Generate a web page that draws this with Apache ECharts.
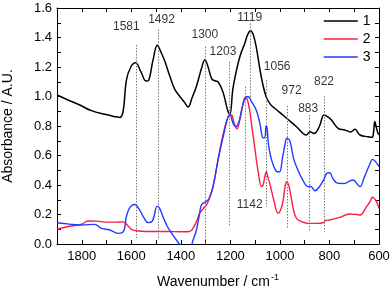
<!DOCTYPE html>
<html><head><meta charset="utf-8">
<script src="https://cdn.jsdelivr.net/npm/echarts@6/dist/echarts.min.js"></script>
<style>html,body{margin:0;padding:0;background:#fff}#c{width:392px;height:290px}</style>
</head><body><div id="c"></div>
<script>
// Series 1 (black) [wavenumber, absorbance]
var s1 = [[1900,1.01],[1860,0.98],[1808,0.942],[1761,0.904],[1707,0.879],[1660,0.862],[1647,0.858],[1633,0.9],[1620,1.11],[1602,1.2],[1583,1.228],[1562,1.17],[1540,1.105],[1530,1.11],[1512,1.25],[1495,1.347],[1480,1.30],[1465,1.24],[1445,1.14],[1425,1.05],[1404,1.0],[1385,0.96],[1371,0.928],[1355,0.99],[1337,1.07],[1315,1.2],[1303,1.25],[1290,1.2],[1275,1.12],[1260,1.105],[1250,1.1],[1230,1.03],[1210,0.9],[1202,0.88],[1190,1.05],[1175,1.18],[1160,1.28],[1142,1.36],[1130,1.42],[1119,1.445],[1108,1.42],[1095,1.33],[1075,1.13],[1056,1.0],[1040,0.95],[1021,0.92],[980,0.863],[933,0.795],[893,0.739],[879,0.761],[862,0.75],[840,0.8],[822,0.875],[805,0.86],[792,0.84],[765,0.784],[738,0.773],[715,0.76],[697,0.778],[677,0.739],[644,0.727],[628,0.723],[622,0.76],[617,0.83],[612,0.8],[604,0.75],[600,0.74]];
// Series 2 (red)
var s2 = [[1900,0.10],[1850,0.12],[1800,0.135],[1775,0.156],[1740,0.155],[1700,0.148],[1660,0.148],[1633,0.15],[1620,0.135],[1600,0.1],[1580,0.09],[1540,0.085],[1500,0.085],[1450,0.085],[1400,0.083],[1365,0.085],[1351,0.106],[1335,0.16],[1324,0.208],[1310,0.24],[1297,0.264],[1285,0.31],[1270,0.389],[1250,0.569],[1230,0.739],[1209,0.863],[1196,0.875],[1185,0.82],[1173,0.78],[1165,0.82],[1155,0.897],[1145,0.98],[1138,0.995],[1130,0.97],[1122,0.905],[1112,0.78],[1102,0.66],[1088,0.49],[1074,0.39],[1068,0.40],[1061,0.456],[1055,0.49],[1048,0.45],[1041,0.411],[1025,0.30],[1007,0.208],[995,0.24],[987,0.298],[978,0.40],[972,0.422],[965,0.40],[960,0.366],[945,0.23],[933,0.174],[910,0.15],[886,0.14],[850,0.14],[826,0.144],[815,0.16],[799,0.163],[760,0.18],[718,0.203],[690,0.2],[677,0.197],[650,0.253],[635,0.29],[626,0.317],[615,0.3],[610,0.287],[600,0.242]];
// Series 3 (blue)
var s3 = [[1900,0.144],[1850,0.135],[1801,0.129],[1748,0.133],[1721,0.106],[1687,0.095],[1654,0.072],[1638,0.075],[1628,0.1],[1620,0.185],[1605,0.25],[1586,0.268],[1566,0.23],[1550,0.18],[1532,0.145],[1515,0.155],[1495,0.257],[1485,0.24],[1472,0.185],[1455,0.12],[1440,0.08],[1418,0.027],[1400,-0.01],[1384,-0.03],[1365,-0.03],[1350,0.03],[1337,0.095],[1325,0.2],[1317,0.264],[1297,0.29],[1285,0.31],[1270,0.39],[1250,0.569],[1223,0.773],[1210,0.86],[1202,0.875],[1189,0.818],[1178,0.795],[1165,0.83],[1155,0.908],[1140,0.99],[1129,1.0],[1115,0.965],[1095,0.905],[1081,0.818],[1068,0.72],[1061,0.72],[1056,0.8],[1052,0.79],[1045,0.66],[1030,0.55],[1010,0.49],[1001,0.49],[990,0.58],[980,0.67],[972,0.717],[960,0.70],[945,0.58],[933,0.524],[910,0.44],[886,0.389],[875,0.39],[859,0.361],[840,0.39],[822,0.44],[810,0.48],[799,0.483],[785,0.44],[765,0.411],[740,0.41],[715,0.43],[704,0.434],[690,0.41],[677,0.389],[660,0.45],[640,0.53],[626,0.574],[615,0.56],[600,0.524]];

var seriesNames = ['1','2','3'];
var seriesColors = ['#000000','#ff1a40','#1f3cff'];

// Peak marker lines
var peakWn     = [1581, 1492, 1300, 1203, 1142, 1119, 1056, 972, 883, 822];
var peakTop    = [1.35, 1.455, 1.338, 1.236, 1.066, 1.496, 1.112, 0.936, 0.875, 1.003];
var peakBottom = [0.04, 0.03, 0.0, 0.117, 0.366, 0.98, 0.253, 0.108, 0.083, 0.083];
var peakLabelWn = [1620, 1478, 1303, 1230, 1122, 1122, 1011, 953, 886, 822];
var peakLabelV  = [1.47, 1.519, 1.417, 1.304, 0.264, 1.537, 1.202, 1.039, 0.92, 1.1];

var xTicks = {min: 600, max: 1900, interval: 200};
var yTicks = {min: 0, max: 1.6, interval: 0.2};

var FONT = 'Liberation Sans, Arial, sans-serif';
var chart = echarts.init(document.getElementById('c'), null, {renderer: 'canvas'});

var markLines = peakWn.map(function (w, i) {
  return [{coord: [w, peakTop[i]]}, {coord: [w, peakBottom[i]]}];
});
var labelData = peakWn.map(function (w, i) {
  return {value: [peakLabelWn[i], peakLabelV[i]], name: String(w)};
});

function axisBase(extra) {
  var o = {
    axisLine: {show: true, onZero: false, lineStyle: {color: '#000', width: 1}},
    axisTick: {show: true, inside: true, length: 4, lineStyle: {color: '#000'}},
    minorTick: {show: true, splitNumber: 2, length: 4, lineStyle: {color: '#000'}},
    splitLine: {show: false},
    axisLabel: {color: '#000', fontSize: 13, fontFamily: FONT}
  };
  for (var k in extra) o[k] = extra[k];
  return o;
}

var option = {
  animation: false,
  backgroundColor: '#fff',
  grid: {left: 57, right: 13, top: 8, bottom: 46, containLabel: false, outerBoundsMode: 'none'},
  legend: {
    data: seriesNames, orient: 'vertical', left: 323, top: 14, itemWidth: 34, itemHeight: 14,
    itemGap: 4, padding: 0, itemStyle: {opacity: 0}, lineStyle: {width: 1.5},
    textStyle: {fontSize: 14, color: '#000', fontFamily: FONT}
  },
  xAxis: [
    axisBase({type: 'value', min: xTicks.min, max: xTicks.max, interval: xTicks.interval, inverse: true,
      position: 'bottom', name: '{a|Wavenumber / cm}{s|-1}', nameLocation: 'middle', nameGap: 29,
      nameTextStyle: {rich: {a: {fontSize: 14, fontFamily: FONT, color: '#000'}, s: {fontSize: 9, fontFamily: FONT, color: '#000', padding: [0, 0, 9, 1]}}},
      axisLabel: {color: '#000', fontSize: 13, fontFamily: FONT, margin: 6, showMaxLabel: false,
        formatter: function (v) { return String(v); }}}),
    axisBase({type: 'value', min: xTicks.min, max: xTicks.max, interval: xTicks.interval, inverse: true,
      position: 'top', axisLabel: {show: false}})
  ],
  yAxis: [
    axisBase({type: 'value', min: yTicks.min, max: yTicks.max, interval: yTicks.interval, position: 'left',
      name: 'Absorbance / A.U.', nameLocation: 'middle', nameGap: 42,
      nameTextStyle: {fontSize: 14, fontFamily: FONT, color: '#000'},
      axisLabel: {color: '#000', fontSize: 13, fontFamily: FONT, margin: 5, formatter: function (v) { return v.toFixed(1); }}}),
    axisBase({type: 'value', min: yTicks.min, max: yTicks.max, interval: yTicks.interval, position: 'right',
      axisLabel: {show: false}})
  ],
  series: [
    {name: seriesNames[0], type: 'line', data: s1, symbol: 'none', smooth: 0.4, clip: true,
      lineStyle: {color: seriesColors[0], width: 1.5}, itemStyle: {color: seriesColors[0]}, z: 3,
      markLine: {silent: true, symbol: 'none', animation: false, label: {show: false},
        lineStyle: {color: '#777', type: [1.5, 1.5], width: 1}, data: markLines}},
    {name: seriesNames[1], type: 'line', data: s2, symbol: 'none', smooth: 0.4, clip: true,
      lineStyle: {color: seriesColors[1], width: 1.4}, itemStyle: {color: seriesColors[1]}, z: 4},
    {name: seriesNames[2], type: 'line', data: s3, symbol: 'none', smooth: 0.4, clip: true,
      lineStyle: {color: seriesColors[2], width: 1.4}, itemStyle: {color: seriesColors[2]}, z: 5},
    {name: 'labels', type: 'scatter', data: labelData, symbolSize: 0, silent: true, z: 6,
      label: {show: true, position: 'inside', formatter: function (p) { return p.name; },
        color: '#000', fontSize: 12, fontFamily: FONT}}
  ]
};
chart.setOption(option);
</script>
</body></html>
